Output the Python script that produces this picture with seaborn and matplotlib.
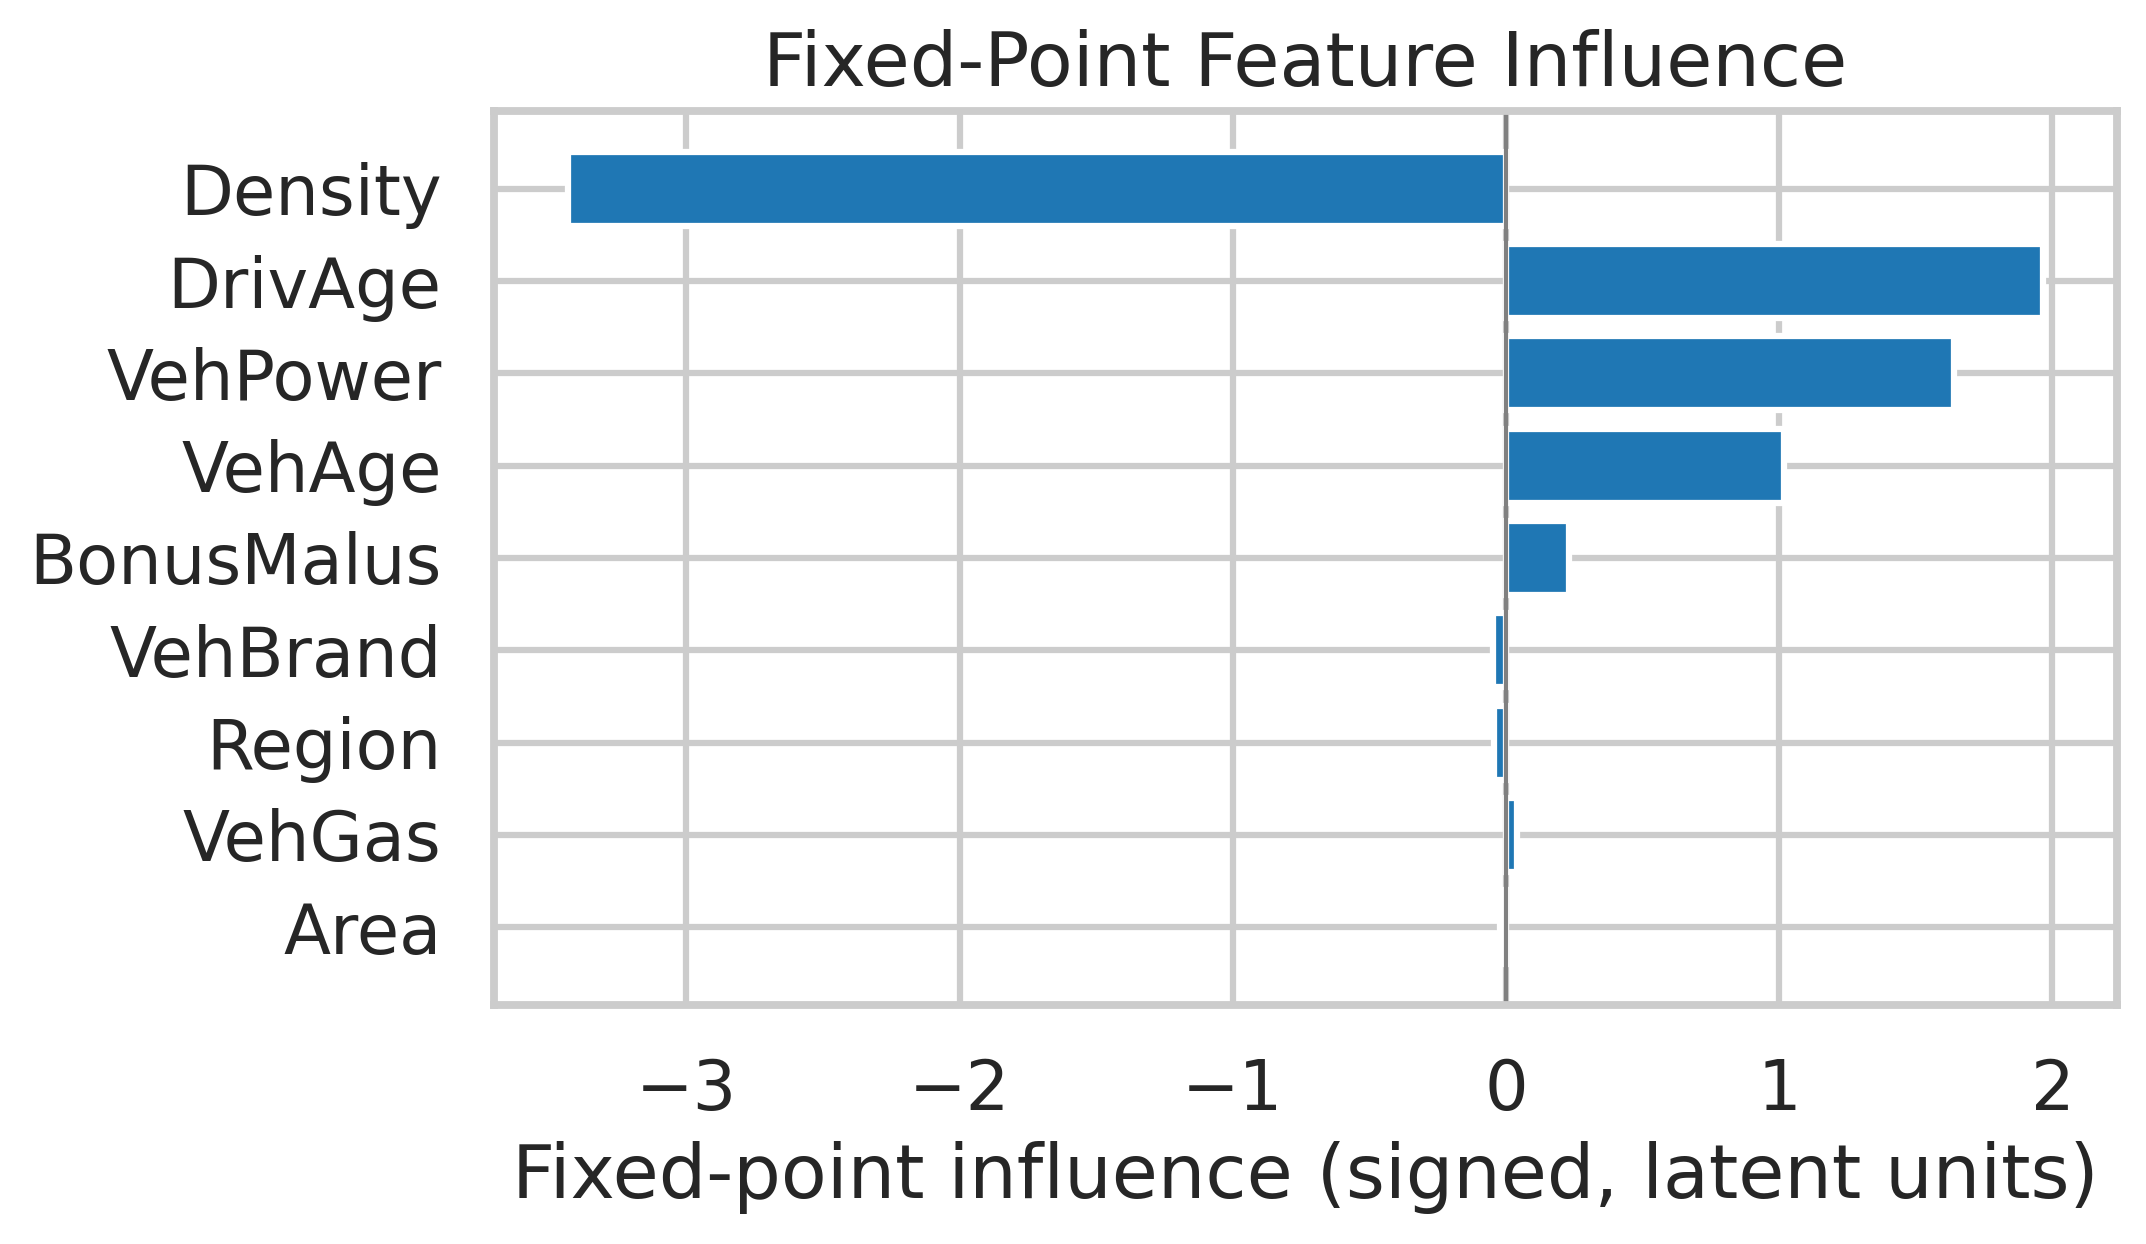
import numpy as np
import pandas as pd
import matplotlib
matplotlib.use("Agg")
import matplotlib.pyplot as plt
import seaborn as sns

features = ["Density", "DrivAge", "VehPower", "VehAge", "BonusMalus",
            "VehBrand", "Region", "VehGas", "Area"]
influence = [-3.435, 1.967, 1.641, 1.018, 0.231, -0.046, -0.043, 0.040, -0.022]

sns.set_theme(style="whitegrid", context="talk")

df = pd.DataFrame({"feature": features, "influence": influence})

fig, ax = plt.subplots(figsize=(2146/300, 1244/300), dpi=300)
sns.barplot(data=df, x="influence", y="feature", color="#1f77b4",
            saturation=1, orient="h", ax=ax)
ax.axvline(0, color="grey", linewidth=1)
ax.yaxis.grid(True)
ax.xaxis.grid(True)
n = len(features)
ax.set_ylim(n - 1 + 0.84, -0.84)
ax.margins(x=0.05)
ax.set_title("Fixed-Point Feature Influence")
ax.set_xlabel("Fixed-point influence (signed, latent units)")
ax.set_ylabel("")
for s in ax.spines.values():
    s.set_visible(True)
fig.subplots_adjust(left=0.2301, right=0.9866, top=0.9106, bottom=0.1923)
fig.savefig("out.png", dpi=300)
